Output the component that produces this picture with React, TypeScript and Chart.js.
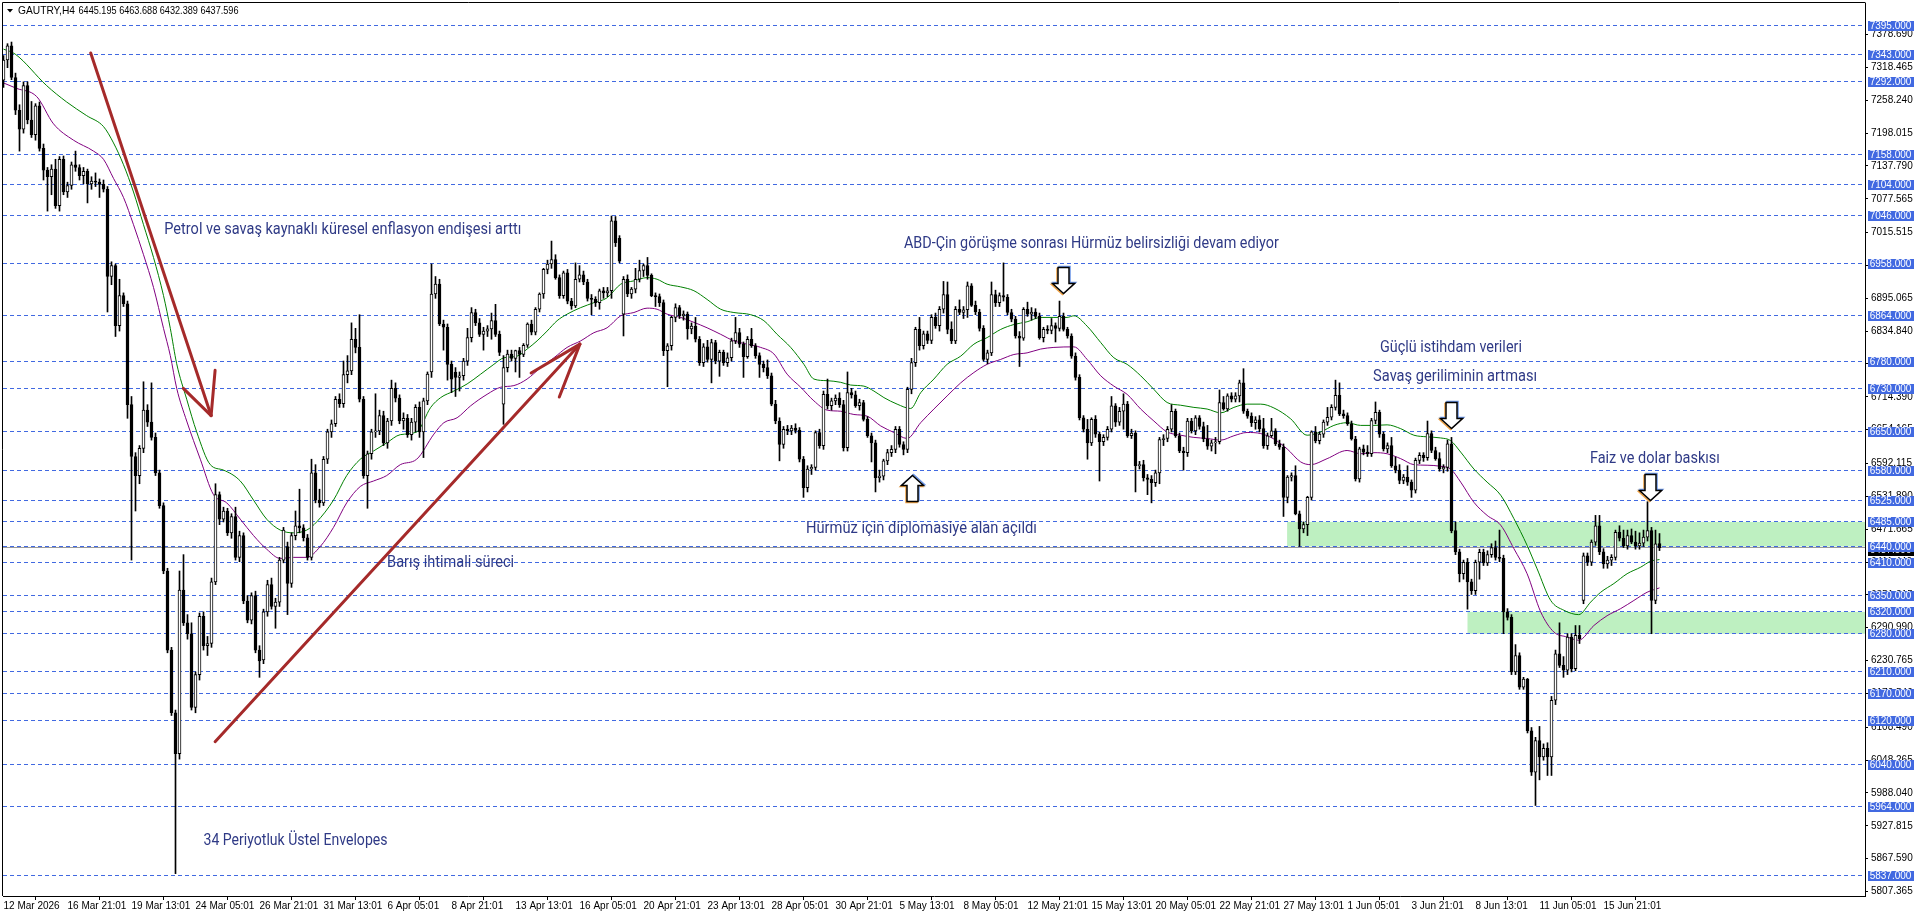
import React, { useEffect, useRef } from "react";
import { Chart, registerables } from "chart.js";
Chart.register(...registerables);

// ---------------- DATA ----------------
const symbolTitle = "GAUTRY,H4";
const titleValues = "6445.195 6463.688 6432.389 6437.596";
const bidPrice = 6437.596;

// H4 candles, bar index 0 = 12 Mar 2026
const opens = [
  7295,7332,7358,7300,7240,7205,7285,7222,7195,7248,
  7170,7130,7118,7132,7065,7150,7090,7102,7140,7135,
  7120,7128,7105,7110,7108,7104,7095,6935,6955,6845,
  6900,6885,6700,6605,6570,6620,6690,6668,6640,6575,
  6515,6395,6250,6135,6060,6360,6300,6280,6145,6205,
  6312,6258,6262,6375,6535,6490,6505,6465,6495,6420,
  6460,6340,6305,6350,6250,6232,6320,6370,6330,6338,
  6415,6440,6372,6460,6478,6474,6456,6420,6575,6525,
  6520,6600,6650,6665,6710,6702,6755,6762,6820,6805,
  6710,6570,6610,6650,6652,6680,6630,6670,6730,6712,
  6670,6675,6645,6668,6695,6650,6707,6760,6903,6921,
  6848,6842,6774,6760,6750,6753,6780,6823,6869,6850,
  6829,6835,6839,6854,6829,6701,6768,6793,6785,6799,
  6792,6809,6848,6833,6875,6903,6948,6958,6966,6933,
  6900,6942,6890,6881,6930,6938,6925,6895,6893,6887,
  6909,6905,6909,7037,7005,6866,6930,6903,6912,6930,
  6946,6955,6937,6900,6898,6887,6799,6808,6860,6878,
  6863,6866,6839,6844,6820,6777,6806,6783,6814,6780,
  6796,6777,6786,6817,6832,6811,6788,6820,6808,6790,
  6774,6768,6753,6701,6670,6627,6655,6652,6657,6653,
  6600,6548,6582,6585,6649,6625,6719,6698,6707,6712,
  6700,6621,6722,6718,6698,6704,6673,6643,6630,6566,
  6569,6597,6612,6618,6655,6627,6618,6728,6777,6838,
  6808,6830,6818,6860,6845,6875,6902,6838,6817,6875,
  6869,6874,6918,6882,6870,6840,6783,6795,6902,6887,
  6900,6897,6869,6857,6826,6822,6875,6866,6870,6862,
  6823,6838,6836,6845,6840,6862,6838,6826,6789,6750,
  6676,6655,6630,6673,6646,6632,6640,6655,6698,6668,
  6688,6701,6643,6648,6588,6590,6566,6563,6557,6575,
  6636,6638,6655,6688,6643,6615,6612,6670,6652,6676,
  6660,6637,6624,6630,6632,6704,6692,6716,6710,6716,
  6740,6688,6679,6667,6672,6656,6625,6643,6652,6628,
  6622,6530,6567,6570,6500,6472,6480,6530,6650,6634,
  6646,6668,6677,6695,6717,6683,6680,6665,6637,6564,
  6619,6613,6610,6671,6686,6646,6619,6625,6588,6580,
  6561,6567,6558,6543,6598,6607,6603,6647,6616,6601,
  6582,6585,6628,6469,6430,6390,6411,6375,6359,6411,
  6429,6410,6425,6438,6420,6418,6320,6310,6210,6240,
  6182,6197,6102,6026,6084,6054,6070,6054,6158,6243,
  6222,6213,6274,6216,6277,6341,6423,6411,6448,6478,
  6430,6408,6415,6420,6466,6455,6441,6460,6448,6441,
  6446,6457,6469,6341,6445.195,
];
const highs = [
  7340,7362,7365,7308,7250,7292,7292,7256,7252,7255,
  7178,7135,7140,7150,7155,7156,7108,7145,7165,7140,
  7135,7132,7118,7125,7114,7112,7100,6962,6958,6930,
  6905,6890,6715,6612,6625,6742,6700,6740,6648,6580,
  6520,6400,6255,6140,6395,6425,6315,6300,6210,6318,
  6320,6275,6382,6555,6540,6512,6510,6500,6512,6468,
  6465,6350,6355,6358,6258,6325,6378,6382,6345,6420,
  6475,6448,6465,6505,6545,6480,6462,6600,6590,6545,
  6605,6655,6672,6715,6720,6780,6790,6850,6840,6865,
  6715,6615,6655,6720,6690,6688,6675,6745,6740,6718,
  6685,6682,6675,6700,6705,6712,6760,6958,6935,6930,
  6855,6848,6780,6768,6760,6785,6840,6878,6875,6858,
  6842,6845,6868,6884,6835,6790,6800,6800,6800,6805,
  6812,6850,6855,6878,6905,6950,6965,7000,6975,6938,
  6945,6948,6895,6960,6955,6945,6930,6902,6898,6912,
  6915,6915,7046,7045,7010,6935,6938,6915,6950,6965,
  6958,6970,6940,6905,6903,6892,6812,6862,6885,6882,
  6872,6870,6850,6860,6825,6812,6818,6820,6818,6800,
  6800,6795,6822,6860,6840,6815,6825,6840,6812,6795,
  6780,6782,6758,6708,6676,6660,6662,6662,6665,6658,
  6605,6588,6590,6652,6655,6725,6747,6712,6718,6722,
  6708,6760,6730,6725,6710,6708,6678,6648,6635,6580,
  6600,6618,6625,6660,6660,6632,6732,6785,6842,6860,
  6835,6835,6865,6868,6880,6926,6925,6852,6880,6892,
  6880,6925,6922,6890,6875,6845,6800,6925,6910,6905,
  6960,6902,6875,6862,6834,6878,6888,6878,6876,6868,
  6842,6845,6858,6850,6890,6868,6842,6830,6795,6755,
  6680,6673,6676,6680,6650,6645,6660,6715,6702,6695,
  6720,6706,6655,6652,6596,6598,6572,6570,6580,6640,
  6645,6660,6700,6692,6648,6622,6675,6675,6680,6680,
  6668,6662,6635,6640,6727,6715,6720,6722,6722,6745,
  6766,6692,6685,6678,6680,6675,6648,6675,6656,6635,
  6628,6570,6575,6588,6505,6485,6532,6652,6660,6650,
  6672,6695,6700,6745,6740,6690,6685,6670,6642,6622,
  6626,6625,6675,6705,6690,6650,6630,6640,6604,6590,
  6572,6588,6562,6602,6612,6612,6670,6652,6622,6612,
  6590,6635,6640,6485,6435,6415,6418,6380,6415,6435,
  6435,6432,6445,6450,6470,6424,6326,6315,6260,6245,
  6200,6198,6108,6090,6110,6078,6080,6165,6250,6300,
  6238,6280,6280,6295,6295,6428,6428,6452,6497,6497,
  6436,6422,6425,6470,6478,6470,6470,6472,6468,6465,
  6470,6522,6475,6470,6463.688,
];
const lows = [
  7282,7318,7296,7232,7165,7198,7215,7190,7185,7165,
  7112,7055,7085,7060,7055,7085,7080,7095,7128,7112,
  7105,7070,7095,7100,7080,7090,6870,6920,6825,6835,
  6880,6675,6415,6505,6555,6612,6660,6635,6570,6510,
  6390,6245,6130,5840,6050,6295,6270,6140,6135,6195,
  6250,6240,6255,6370,6480,6485,6460,6455,6415,6412,
  6335,6300,6298,6245,6200,6225,6312,6325,6290,6330,
  6410,6315,6365,6452,6465,6450,6415,6415,6520,6512,
  6515,6592,6640,6660,6695,6695,6740,6755,6795,6705,
  6565,6510,6600,6640,6645,6625,6620,6662,6705,6665,
  6655,6640,6635,6650,6640,6603,6700,6750,6895,6845,
  6800,6745,6722,6715,6725,6745,6772,6815,6845,6825,
  6800,6825,6820,6825,6790,6664,6760,6780,6760,6750,
  6788,6805,6828,6828,6870,6895,6940,6950,6930,6895,
  6895,6885,6875,6878,6925,6920,6890,6865,6880,6875,
  6895,6898,6895,6990,6960,6826,6898,6895,6905,6925,
  6935,6930,6898,6880,6880,6790,6733,6800,6852,6858,
  6855,6820,6830,6815,6772,6770,6778,6740,6775,6752,
  6772,6770,6780,6812,6805,6750,6785,6805,6785,6750,
  6760,6748,6698,6665,6597,6620,6645,6645,6648,6595,
  6530,6540,6572,6580,6620,6618,6692,6690,6700,6695,
  6615,6615,6712,6695,6690,6670,6640,6595,6540,6558,
  6562,6590,6605,6612,6622,6608,6612,6720,6770,6800,
  6802,6812,6812,6840,6835,6868,6830,6812,6812,6865,
  6858,6860,6880,6865,6835,6780,6775,6790,6880,6880,
  6890,6865,6852,6822,6770,6818,6862,6855,6858,6820,
  6815,6830,6830,6815,6835,6835,6822,6785,6745,6672,
  6650,6600,6625,6640,6560,6625,6635,6650,6660,6662,
  6655,6640,6638,6540,6582,6560,6535,6520,6550,6555,
  6625,6632,6650,6640,6612,6580,6605,6648,6645,6655,
  6632,6618,6615,6610,6628,6690,6688,6705,6705,6705,
  6684,6675,6660,6655,6650,6620,6618,6640,6625,6618,
  6495,6520,6560,6498,6440,6465,6460,6525,6630,6628,
  6640,6662,6672,6690,6680,6675,6662,6635,6560,6558,
  6608,6605,6605,6665,6640,6615,6612,6585,6575,6555,
  6555,6552,6530,6538,6592,6596,6598,6612,6598,6578,
  6575,6578,6465,6425,6375,6380,6325,6352,6352,6380,
  6405,6405,6420,6415,6412,6280,6305,6205,6205,6178,
  6178,6098,6020,5965,6012,6048,6020,6020,6150,6218,
  6200,6205,6210,6212,6262,6335,6405,6405,6442,6425,
  6400,6400,6405,6415,6450,6438,6435,6445,6435,6435,
  6440,6450,6280,6335,6432.389,
];
const closes = [
  7332,7358,7300,7240,7205,7285,7222,7195,7248,7170,
  7130,7118,7132,7065,7150,7090,7102,7140,7135,7120,
  7128,7105,7110,7108,7104,7095,6935,6955,6845,6900,
  6885,6700,6605,6570,6620,6690,6668,6640,6575,6515,
  6395,6250,6135,6060,6360,6300,6280,6145,6205,6312,
  6258,6262,6375,6535,6490,6505,6465,6495,6420,6460,
  6340,6305,6350,6250,6230,6320,6370,6330,6338,6415,
  6470,6372,6460,6478,6474,6456,6420,6575,6525,6520,
  6600,6650,6665,6710,6702,6755,6762,6820,6805,6710,
  6570,6610,6650,6652,6680,6630,6670,6730,6712,6670,
  6675,6645,6668,6695,6650,6707,6756,6903,6921,6848,
  6842,6774,6747,6750,6753,6780,6823,6869,6850,6829,
  6835,6839,6854,6829,6796,6768,6793,6785,6799,6792,
  6809,6848,6833,6875,6903,6948,6958,6966,6933,6900,
  6942,6890,6881,6930,6938,6925,6895,6893,6887,6909,
  6905,6909,7037,6997,6963,6930,6903,6912,6930,6946,
  6955,6937,6900,6898,6887,6799,6808,6860,6878,6863,
  6866,6839,6844,6820,6777,6806,6783,6814,6780,6796,
  6777,6786,6817,6832,6811,6788,6820,6808,6790,6774,
  6768,6753,6701,6670,6627,6655,6652,6657,6653,6600,
  6548,6582,6585,6649,6625,6719,6698,6707,6712,6700,
  6621,6722,6718,6698,6704,6673,6643,6630,6566,6569,
  6597,6612,6618,6655,6627,6618,6728,6777,6838,6808,
  6830,6818,6860,6845,6875,6902,6838,6817,6875,6869,
  6874,6918,6882,6870,6840,6783,6795,6902,6887,6900,
  6897,6869,6857,6826,6822,6875,6866,6870,6862,6823,
  6838,6836,6845,6840,6862,6838,6826,6789,6750,6676,
  6655,6630,6673,6646,6632,6640,6655,6698,6668,6688,
  6701,6643,6648,6588,6590,6566,6563,6557,6575,6636,
  6638,6655,6688,6643,6615,6612,6670,6652,6676,6660,
  6637,6624,6630,6632,6704,6692,6716,6710,6716,6740,
  6688,6679,6667,6672,6656,6625,6643,6652,6628,6622,
  6530,6567,6570,6500,6472,6480,6530,6650,6634,6646,
  6668,6677,6695,6717,6683,6680,6665,6637,6564,6619,
  6613,6610,6671,6686,6646,6619,6625,6588,6580,6561,
  6567,6558,6543,6598,6607,6603,6647,6616,6601,6582,
  6585,6628,6469,6430,6390,6411,6375,6359,6411,6429,
  6410,6425,6438,6420,6418,6320,6310,6210,6240,6182,
  6197,6102,6026,6084,6054,6070,6054,6158,6243,6222,
  6213,6274,6216,6277,6271,6423,6411,6448,6478,6430,
  6408,6415,6420,6466,6455,6441,6460,6448,6441,6446,
  6457,6469,6341,6445,6437.596,
];

// 34-period exponential envelopes (bar index, price)
const upperX = [0,2.9,10.8,15.8,20.8,25,27.5,30,32.5,35,37.5,40,41.7,43.3,45.8,48.3,51.7,55,59.2,62.5,65.8,69.2,72.5,75.8,78.3,82.5,85.8,89.2,92.5,95.8,99.2,103.3,
  106.8,109.3,112.6,115.9,119.3,122.6,125.1,128.4,130.9,133.4,135.9,138.4,140.9,144.3,147.6,150.9,154.3,157.6,160.9,163.4,165.9,169.3,172.6,175.9,179.3,182.6,186.8,190.1,193.4,196.8,200.1,202.6,205.9,209.3,
  211.8,215.1,217.6,220.1,223.4,226.8,229.3,232.6,235.9,239.3,242.6,245.9,249.3,252.6,255.9,259.3,262.6,265.9,267.6,270.9,274.3,277.6,280.9,284.3,287.6,290.9,294.3,297.6,300.9,304.3,307.6,310.9,314.3,
  317.6,321.8,325.9,329.3,332.6,335.9,339.3,342.6,345.9,349.3,352.6,355.9,359.3,361.8,364.3,367.6,370.9,374.3,377.6,380.9,383.4,386.8,390.1,393.8,396.8,399.3,402.6,405.9,409.3,411.8,414];
const upperY = [7352,7343,7285,7255,7230,7210,7180,7140,7090,7030,6970,6900,6840,6775,6710,6650,6590,6580,6560,6525,6490,6470,6465,6470,6485,6525,6570,6600,6615,6630,6645,6650,
  6695,6713,6725,6738,6756,6774,6786,6789,6802,6817,6835,6854,6866,6878,6887,6896,6921,6927,6933,6930,6921,6916,6909,6893,6875,6869,6865,6854,6829,6805,6774,6747,6744,6741,
  6736,6734,6725,6713,6701,6693,6722,6747,6774,6789,6811,6823,6838,6847,6852,6860,6860,6860,6863,6844,6814,6786,6774,6753,6728,6704,6699,6695,6692,6685,6695,6701,6701,
  6694,6674,6644,6650,6662,6667,6662,6662,6663,6656,6644,6641,6639,6634,6613,6582,6558,6534,6491,6442,6399,6341,6323,6315,6338,6356,6372,6390,6402,6413,6416];
const lowerX = [0,3.3,8.3,12.5,17.5,22.5,25,27.5,30,32.5,35,37.5,40,41.7,43.3,45.8,49.2,52.5,55.8,59.2,62.5,65.8,69.2,72.5,75.8,79.2,82.5,85.8,89.2,92.5,95.8,99.2,103.3,
  107.6,110.1,113.4,116.8,120.9,124.3,127.6,130.9,134.3,137.6,140.9,144.3,147.6,150.9,154.3,157.6,160.9,163.4,165.9,169.3,172.6,175.9,179.3,182.6,185.9,189.3,192.6,195.9,199.3,202.6,205.9,209.3,
  212.6,215.9,219.3,222.6,225.9,229.3,232.6,235.9,239.3,242.6,245.9,249.3,252.6,255.9,259.3,262.6,267.6,270.9,274.3,277.6,280.9,284.3,287.6,290.9,294.3,297.6,300.9,304.3,307.6,310.9,314.3,
  317.6,320.9,324.3,326.8,330.9,335.9,339.3,342.6,345.9,349.3,352.6,355.9,359.3,361.8,364.3,367.6,370.9,374.3,377.6,380.9,384.3,387.6,390.9,393.8,397.6,400.9,404.3,407.6,410.9,414];
const lowerY = [7290,7280,7265,7215,7185,7165,7150,7115,7080,7030,6975,6915,6840,6790,6730,6670,6600,6535,6520,6490,6460,6435,6418,6420,6420,6440,6475,6520,6550,6560,6570,6590,6600,
  6646,6667,6676,6698,6719,6732,6735,6747,6768,6786,6805,6817,6832,6841,6863,6869,6877,6875,6866,6860,6851,6841,6829,6817,6811,6805,6793,6756,6732,6707,6690,6688,
  6682,6679,6661,6649,6638,6667,6692,6716,6740,6759,6774,6783,6792,6795,6802,6805,6806,6783,6753,6734,6719,6692,6670,6650,6644,6640,6638,6635,6643,6649,6647,
  6637,6619,6595,6590,6601,6616,6610,6612,6610,6601,6590,6589,6587,6582,6558,6521,6497,6479,6436,6390,6320,6283,6274,6268,6295,6313,6326,6341,6356,6364];

const levelPrices = [7395,7343,7292,7158,7104,7046,6958,6864,6780,6730,6650,6580,6525,6485,6440,6410,6350,6320,6280,6210,6170,6120,6040,5964,5837];
const axisTickPrices = [7378.69,7318.465,7258.24,7198.015,7137.79,7077.565,7015.515,6955.29,6895.065,6834.84,6774.615,6714.39,6654.165,6592.115,6531.89,6471.665,6411.44,6351.215,6290.99,6230.765,6170.54,6108.49,6048.265,5988.04,5927.815,5867.59,5807.365];
const dateLabels = ["12 Mar 2026","16 Mar 21:01","19 Mar 13:01","24 Mar 05:01","26 Mar 21:01","31 Mar 13:01","6 Apr 05:01","8 Apr 21:01","13 Apr 13:01","16 Apr 05:01","20 Apr 21:01","23 Apr 13:01","28 Apr 05:01","30 Apr 21:01","5 May 13:01","8 May 05:01","12 May 21:01","15 May 13:01","20 May 05:01","22 May 21:01","27 May 13:01","1 Jun 05:01","3 Jun 21:01","8 Jun 13:01","11 Jun 05:01","15 Jun 21:01"];
const barsPerDateLabel = 16;

const zoneStart = [320.9, 366];
const zoneTop = [6485, 6320];
const zoneBottom = [6440, 6280];

const noteTexts = [
  "Petrol ve savaş kaynaklı küresel enflasyon endişesi arttı",
  "ABD-Çin görüşme sonrası Hürmüz belirsizliği devam ediyor",
  "Güçlü istihdam verileri",
  "Savaş geriliminin artması",
  "Faiz ve dolar baskısı",
  "Hürmüz için diplomasiye alan açıldı",
  "Barış ihtimali süreci",
  "34 Periyotluk Üstel Envelopes",
];
const noteX = [40.2, 225.1, 344.1, 342.4, 396.6, 200.6, 95.9, 50.0];
const notePrice = [7020, 6995, 6804, 6751, 6600, 6472, 6411, 5900];
const noteWidth = [357, 375, 142, 164, 130, 231, 127, 184];

const trendFromX = [21.8, 51.9, 51.9, 52.9, 144.1, 144.1];
const trendFromPrice = [7345, 6680, 6680, 6082, 6811, 6811];
const trendToX = [51.9, 44.95, 52.9, 144.1, 131.9, 138.95];
const trendToPrice = [6680, 6730, 6763, 6811, 6758, 6714];

const markerX = [227, 264.9, 361.8, 411.6];
const markerPrice = [6571, 6905, 6657, 6525];
const markerUp = [true, false, false, false];

// ---------------- STYLE ----------------
const X_MIN = -0.125, X_MAX = 465.375, Y_MIN = 5799, Y_MAX = 7436.6;
const LEVEL_COLOR = "#4169e1";
const ZONE_COLOR = "rgb(190,240,193)";
const NOTE_COLOR = "#2f3a86";
const TREND_COLOR = "#a52a2a";

function pickAxisFont(): { family: string; size: number } {
  const c = document.createElement("canvas").getContext("2d")!;
  const probe = "7395.000 Mar 12";
  c.font = "11px monospace";
  const a = c.measureText(probe).width;
  c.font = "11px 'Liberation Sans Narrow', monospace";
  const b = c.measureText(probe).width;
  if (Math.abs(a - b) > 0.5) return { family: "'Liberation Sans Narrow'", size: 11 };
  return { family: "'Liberation Sans'", size: 10 };
}

export default function App() {
  const ref = useRef<HTMLCanvasElement>(null);
  useEffect(() => {
    document.body.style.margin = "0";
    const af = pickAxisFont();
    const axisFontCss = `${af.size}px ${af.family}`;
    const idx = opens.map((_, i) => i);

    const overlay = {
      id: "overlay",
      beforeDatasetsDraw(chart: any) {
        const { ctx, chartArea: a, scales } = chart;
        const x = scales.x, y = scales.y;
        ctx.save();
        ctx.beginPath();
        ctx.rect(a.left, a.top, a.right - a.left, a.bottom - a.top);
        ctx.clip();
        ctx.fillStyle = ZONE_COLOR;
        zoneStart.forEach((s, k) => {
          const x0 = x.getPixelForValue(s);
          const y0 = y.getPixelForValue(zoneTop[k]);
          const y1 = y.getPixelForValue(zoneBottom[k]);
          ctx.fillRect(x0, y0, a.right - x0, y1 - y0);
        });
        ctx.lineWidth = 1;
        ctx.strokeStyle = LEVEL_COLOR;
        ctx.setLineDash([4, 3]);
        levelPrices.forEach((p) => {
          const yy = Math.floor(y.getPixelForValue(p)) + 0.5;
          ctx.beginPath();
          ctx.moveTo(a.left, yy);
          ctx.lineTo(a.right, yy);
          ctx.stroke();
        });
        ctx.setLineDash([]);
        ctx.strokeStyle = "#9a9a9a";
        const by = Math.floor(y.getPixelForValue(bidPrice)) + 0.5;
        ctx.beginPath();
        ctx.moveTo(a.left, by);
        ctx.lineTo(a.right, by);
        ctx.stroke();
        ctx.restore();
      },
      afterDatasetsDraw(chart: any) {
        const { ctx, chartArea: a, scales } = chart;
        const x = scales.x, y = scales.y;
        ctx.save();
        ctx.beginPath();
        ctx.rect(a.left, a.top, a.right - a.left, a.bottom - a.top);
        ctx.clip();
        // trend arrows
        ctx.strokeStyle = TREND_COLOR;
        ctx.lineWidth = 3;
        ctx.lineCap = "round";
        trendFromX.forEach((fx, k) => {
          ctx.beginPath();
          ctx.moveTo(x.getPixelForValue(fx), y.getPixelForValue(trendFromPrice[k]));
          ctx.lineTo(x.getPixelForValue(trendToX[k]), y.getPixelForValue(trendToPrice[k]));
          ctx.stroke();
        });
        // outline arrows
        const pts: [number, number][] = [[-5.5, -26], [5.5, -26], [5.5, -10], [11, -10], [0, 0], [-11, -10], [-5.5, -10]];
        markerX.forEach((mx, k) => {
          const cx = Math.round(x.getPixelForValue(mx)) + 0.5;
          const ty = Math.round(y.getPixelForValue(markerPrice[k])) + 0.5;
          const d = markerUp[k] ? -1 : 1;
          const path = (ox: number, oy: number) => {
            ctx.beginPath();
            pts.forEach(([px, py], j) => {
              const X = cx + px + ox, Y = ty + py * d + oy;
              if (j) ctx.lineTo(X, Y); else ctx.moveTo(X, Y);
            });
            ctx.closePath();
          };
          ctx.lineWidth = 1.5;
          ctx.lineCap = "butt";
          path(-1, 1); ctx.strokeStyle = "#f0a040"; ctx.stroke();
          path(1, -1); ctx.strokeStyle = "#6a94e6"; ctx.stroke();
          path(0, 0); ctx.fillStyle = "#ffffff"; ctx.fill(); ctx.strokeStyle = "#000"; ctx.stroke();
        });
        // notes
        ctx.fillStyle = NOTE_COLOR;
        ctx.font = "17px Roboto";
        ctx.textBaseline = "middle";
        ctx.textAlign = "left";
        noteTexts.forEach((t, k) => {
          const w = ctx.measureText(t).width;
          const s = noteWidth[k] / w;
          ctx.save();
          ctx.translate(x.getPixelForValue(noteX[k]), y.getPixelForValue(notePrice[k]));
          ctx.scale(s, 1);
          ctx.fillText(t, 0, 0);
          ctx.restore();
        });
        ctx.restore();
      },
      afterDraw(chart: any) {
        const { ctx, chartArea: a, scales } = chart;
        const y = scales.y;
        ctx.save();
        // frame
        ctx.strokeStyle = "#000";
        ctx.lineWidth = 1;
        ctx.beginPath();
        ctx.moveTo(a.left - 0.5, a.bottom);
        ctx.lineTo(a.left - 0.5, a.top - 0.5);
        ctx.lineTo(a.right + 0.5, a.top - 0.5);
        ctx.stroke();
        // title
        ctx.fillStyle = "#000";
        ctx.beginPath();
        ctx.moveTo(7, 9); ctx.lineTo(13, 9); ctx.lineTo(10, 12.5); ctx.closePath(); ctx.fill();
        ctx.font = `${af.size + 1}px ${af.family}`;
        ctx.textBaseline = "middle";
        ctx.textAlign = "left";
        ctx.fillText(symbolTitle, 18, 11, 57);
        ctx.fillText(titleValues, 78.5, 11, 160);
        // bid label
        ctx.font = axisFontCss;
        const by = Math.floor(y.getPixelForValue(bidPrice));
        ctx.fillStyle = "#000";
        ctx.fillRect(1868, by - 2, 46, 11);
        ctx.fillStyle = "#fff";
        ctx.textAlign = "center";
        ctx.fillText(bidPrice.toFixed(3), 1890.5, by + 3.5);
        // level labels
        levelPrices.forEach((p) => {
          const yy = Math.floor(y.getPixelForValue(p));
          ctx.fillStyle = LEVEL_COLOR;
          ctx.fillRect(1868, yy - 4, 46, 10);
          ctx.fillStyle = "#fff";
          ctx.fillText(p.toFixed(3), 1890.5, yy + 1);
        });
        ctx.restore();
      },
    };

    const chart = new Chart(ref.current!, {
      type: "bar",
      data: {
        datasets: [
          {
            type: "bar",
            label: "body",
            data: idx.map((i) => ({ x: i, y: [opens[i], closes[i]] })) as any,
            backgroundColor: idx.map((i) => (closes[i] >= opens[i] ? "#ffffff" : "#000000")),
            borderColor: "#000000",
            borderWidth: 1,
            borderSkipped: false,
            barThickness: 3,
            grouped: false,
            order: 1,
          } as any,
          {
            type: "bar",
            label: "wick",
            data: idx.map((i) => ({ x: i, y: [lows[i], highs[i]] })) as any,
            backgroundColor: "#000000",
            borderWidth: 0,
            barThickness: 1,
            grouped: false,
            order: 2,
          } as any,
          {
            type: "line",
            label: "upper",
            data: upperX.map((v, k) => ({ x: v, y: upperY[k] })),
            borderColor: "#008000",
            borderWidth: 1,
            pointRadius: 0,
            cubicInterpolationMode: "monotone",
            order: 3,
          } as any,
          {
            type: "line",
            label: "lower",
            data: lowerX.map((v, k) => ({ x: v, y: lowerY[k] })),
            borderColor: "#800080",
            borderWidth: 1,
            pointRadius: 0,
            cubicInterpolationMode: "monotone",
            order: 3,
          } as any,
        ],
      },
      options: {
        responsive: false,
        animation: false,
        devicePixelRatio: 1,
        events: [],
        layout: { padding: { left: 3, top: 3, right: 0, bottom: 0 } },
        plugins: { legend: { display: false }, tooltip: { enabled: false } },
        scales: {
          x: {
            type: "linear",
            min: X_MIN,
            max: X_MAX,
            offset: false,
            afterBuildTicks: (s: any) => {
              s.ticks = dateLabels.map((_, k) => ({ value: k * barsPerDateLabel }));
            },
            afterFit: (s: any) => {
              s.height = 21;
              s.paddingLeft = 0;
              s.paddingRight = 0;
            },
            ticks: {
              autoSkip: false,
              maxRotation: 0,
              minRotation: 0,
              align: "start",
              padding: 0,
              color: "#000",
              font: { family: af.family, size: af.size },
              callback: (_v: any, i: number) => dateLabels[i],
            },
            grid: { display: true, drawOnChartArea: false, drawTicks: true, tickLength: 4, color: "#000" },
            border: { display: true, color: "#000" },
          },
          y: {
            type: "linear",
            position: "right",
            min: Y_MIN,
            max: Y_MAX,
            afterBuildTicks: (s: any) => {
              s.ticks = axisTickPrices.map((v) => ({ value: v }));
            },
            afterFit: (s: any) => {
              s.width = 51;
              s.paddingTop = 0;
              s.paddingBottom = 0;
            },
            ticks: {
              autoSkip: false,
              padding: 3,
              color: "#000",
              font: { family: af.family, size: af.size },
              callback: (v: any) => Number(v).toFixed(3),
            },
            grid: { display: true, drawOnChartArea: false, drawTicks: true, tickLength: 3, color: "#000" },
            border: { display: true, color: "#000" },
          },
        },
      } as any,
      plugins: [overlay],
    });
    return () => chart.destroy();
  }, []);
  return (
    <div style={{ width: 1916, height: 917, background: "#fff" }}>
      <canvas ref={ref} width={1916} height={917} style={{ display: "block" }} />
    </div>
  );
}
